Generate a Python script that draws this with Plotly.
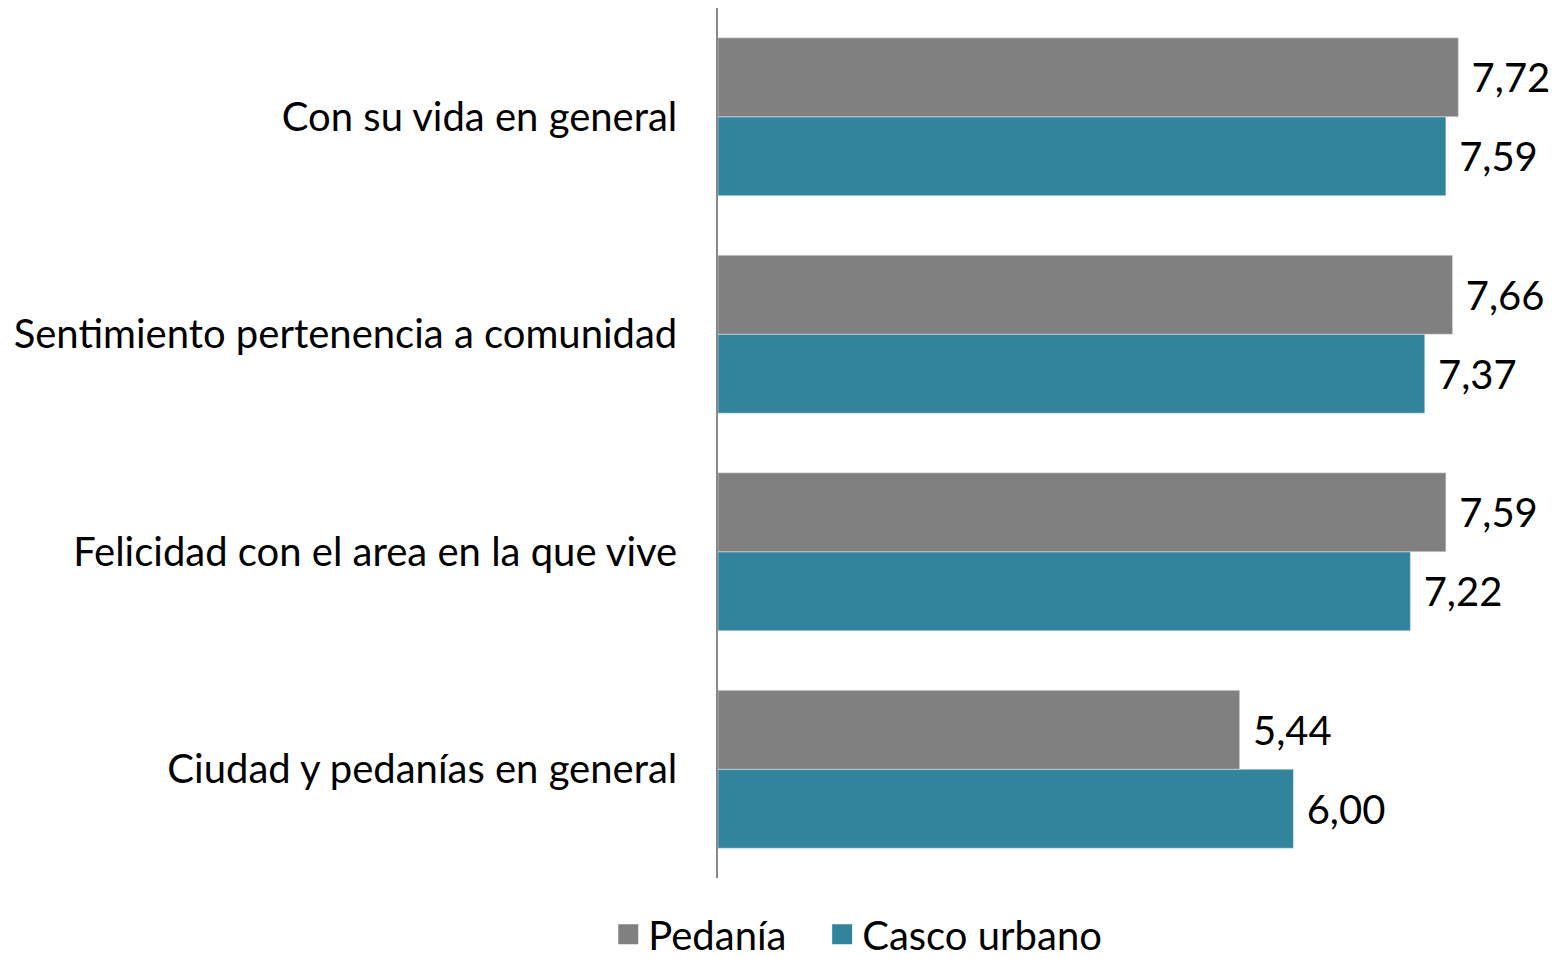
import plotly.graph_objects as go

categorias = ["Con su vida en general", "Sentimiento pertenencia a comunidad",
              "Felicidad con el area en la que vive", "Ciudad y pedanías en general"]
pedania = [7.72, 7.66, 7.59, 5.44]
casco_urbano = [7.59, 7.37, 7.22, 6.00]

gris = "#808080"
azul = "#31849B"

def fmt(v):
    return "\u00a0" + f"{v:.2f}".replace(".", ",")

fuente = dict(family="Lato, Carlito, Calibri, sans-serif", size=40, color="#000000")

fig = go.Figure()
# casco urbano first so it sits below pedanía inside each group
fig.add_trace(go.Bar(
    y=categorias, x=casco_urbano, orientation="h", name="Casco urbano",
    marker_color=azul, showlegend=False,
    text=[fmt(v) for v in casco_urbano], textposition="outside",
    textfont=fuente, cliponaxis=False,
))
fig.add_trace(go.Bar(
    y=categorias, x=pedania, orientation="h", name="Pedanía",
    marker_color=gris, showlegend=False,
    text=[fmt(v) for v in pedania], textposition="outside",
    textfont=fuente, cliponaxis=False,
))
# legend entries with larger square keys
for nombre, color in [("Pedanía\u00a0\u00a0\u00a0", gris), ("Casco urbano", azul)]:
    fig.add_trace(go.Scatter(
        x=[None], y=[None], mode="markers", name=nombre,
        marker=dict(symbol="square", size=22, color=color,
                    line=dict(color=color, width=4)),
    ))

# the page body adds an 8px offset, so the figure is 8px smaller
fig.update_layout(
    width=1552, height=951,
    margin=dict(l=710, r=0, t=0, b=81),
    plot_bgcolor="white", paper_bgcolor="white",
    barmode="group", bargap=0.274, bargroupgap=0,
    font=fuente,
    legend=dict(orientation="h",
                x=0.166, xanchor="center",
                yref="container", y=0.026, yanchor="middle",
                font=fuente, itemwidth=30, tracegroupgap=0),
    xaxis=dict(range=[0, 8.78], visible=False, automargin=False),
    yaxis=dict(categoryorder="array", categoryarray=categorias[::-1],
               showline=True, linecolor="#888888", linewidth=1.5,
               ticks="", ticklabelstandoff=31, tickfont=fuente,
               showgrid=False, automargin=False),
)

fig.write_html("out.html")
